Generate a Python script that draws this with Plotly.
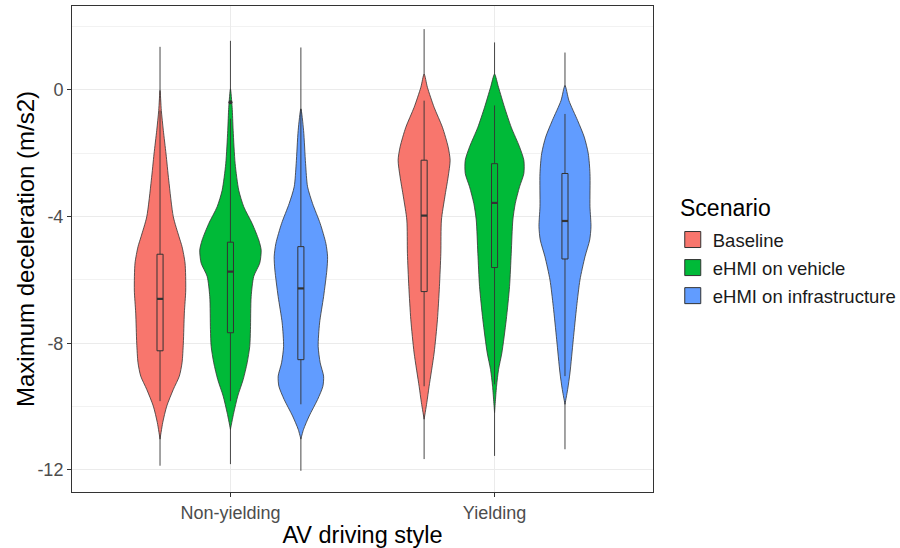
import plotly.graph_objects as go

# ---------------- data ----------------
categories = ["Non-yielding", "Yielding"]
scenarios = ["Baseline", "eHMI on vehicle", "eHMI on infrastructure"]
colors = ["#F8766D", "#00BA38", "#619CFF"]

# violin outlines: y values (top to bottom) and half-widths (density, px)
ny_base_y = [-0.02, -0.65, -1.28, -2.02, -2.85, -4.01, -4.64, -4.95, -5.47, -6.32, -7.05, -8.0, -8.62, -9.04, -9.46, -9.99, -10.51, -11.03]
ny_base_w = [0, 1.3, 3.3, 6, 8.7, 13.3, 19, 22, 25, 25.7, 24.3, 23.3, 22, 19.3, 13.3, 6.7, 2.7, 0]
ny_veh_y = [0.03, -0.55, -1.28, -2.33, -3.17, -3.69, -4.22, -4.74, -5.06, -5.47, -5.89, -6.53, -7.57, -8.10, -8.62, -9.15, -9.67, -10.20, -10.72]
ny_veh_w = [0, 1.7, 2.7, 4.7, 8.3, 13.3, 21.7, 28.3, 30.7, 29.3, 23.3, 20.7, 20, 19.3, 16.7, 12.7, 7.3, 3.3, 0]
ny_inf_y = [-0.60, -1.28, -2.33, -3.06, -3.59, -4.22, -4.85, -5.27, -5.69, -6.53, -7.36, -8.10, -8.62, -9.04, -9.36, -9.78, -10.30, -10.72, -11.03]
ny_inf_w = [0, 2.7, 4.7, 6.7, 11.7, 19.3, 25, 26.7, 26, 22.7, 18.7, 17.3, 19.3, 22.7, 22, 16.7, 8.3, 2.7, 0]
y_base_y = [0.50, 0.08, -0.55, -1.18, -1.80, -2.22, -2.75, -3.38, -4.11, -5.16, -6.21, -7.26, -8.31, -9.36, -9.88, -10.40]
y_base_w = [0, 3.3, 10, 18.3, 24, 26, 24, 20.7, 17.3, 16.7, 15.3, 13.3, 10, 5, 2.7, 0]
y_veh_y = [0.50, 0.08, -0.55, -1.18, -1.80, -2.22, -2.64, -3.06, -3.59, -4.11, -5.16, -6.21, -7.26, -8.31, -8.83, -9.36, -10.19]
y_veh_w = [0, 4, 10, 16.7, 25, 29.3, 29.3, 25, 20.7, 18.3, 16.7, 15, 11.7, 7.3, 4, 2, 0]
y_inf_y = [0.14, -0.34, -0.97, -1.49, -2.01, -2.64, -3.69, -4.32, -4.74, -5.27, -6.00, -6.84, -7.89, -8.94, -9.46, -9.93]
y_inf_w = [0, 4, 12.7, 19.3, 23.3, 25, 25, 26, 24.7, 20, 15, 11.7, 8.3, 5, 2.7, 0]

violin_y = [ny_base_y, ny_veh_y, ny_inf_y, y_base_y, y_veh_y, y_inf_y]
violin_w = [ny_base_w, ny_veh_w, ny_inf_w, y_base_w, y_veh_w, y_inf_w]

# box statistics, order: NY-Baseline, NY-vehicle, NY-infra, Y-Baseline, Y-vehicle, Y-infra
box_q3 = [-5.19, -4.81, -4.95, -2.22, -2.33, -2.64]
box_median = [-6.60, -5.74, -6.27, -3.97, -3.57, -4.14]
box_q1 = [-8.24, -7.67, -8.52, -6.37, -5.61, -5.34]
whisk_hi = [-0.65, -0.91, -0.60, -0.34, -0.49, -0.76]
whisk_lo = [-9.83, -9.83, -9.93, -9.36, -9.30, -9.04]
range_max = [1.36, 1.55, 1.34, 1.92, 1.50, 1.18]
range_min = [-11.87, -11.82, -12.03, -11.66, -11.56, -11.35]
outlier_group = [1]
outlier_val = [-0.39]

y_ticks = [-12, -8, -4, 0]

# ---------------- layout helpers ----------------
PX_PER_UNIT = 264.0
dodge = 0.8
offsets = [-dodge / 3, 0, dodge / 3]
box_w = 0.023
ink = "#333333"
FONT = "Liberation Sans, Arial, sans-serif"

def center(i):
    return (i // 3) + 1 + offsets[i % 3]

fig = go.Figure()

# full-range lines (drawn beneath violins)
lx, ly = [], []
for i in range(6):
    c = center(i)
    lx += [c, c, None]
    ly += [range_max[i], range_min[i], None]
fig.add_trace(go.Scatter(x=lx, y=ly, mode="lines", line=dict(color=ink, width=0.9),
                         showlegend=False, hoverinfo="skip"))

# violins
for i in range(6):
    c = center(i)
    ys = violin_y[i]
    ws = [w / PX_PER_UNIT for w in violin_w[i]]
    xs = [c + w for w in ws] + [c - w for w in reversed(ws)]
    yy = list(ys) + list(reversed(ys))
    fig.add_trace(go.Scatter(x=xs, y=yy, mode="lines", fill="toself",
                             fillcolor=colors[i % 3],
                             line=dict(color=ink, width=0.8, shape="spline", smoothing=0.7),
                             showlegend=False, hoverinfo="skip"))

# boxplots drawn as scatter paths (on top of violins)
for i in range(6):
    c = center(i)
    h = box_w / 2
    fig.add_trace(go.Scatter(x=[c, c, None, c, c], y=[box_q3[i], whisk_hi[i], None, box_q1[i], whisk_lo[i]],
                             mode="lines", line=dict(color=ink, width=0.9),
                             showlegend=False, hoverinfo="skip"))
    fig.add_trace(go.Scatter(x=[c - h, c + h, c + h, c - h, c - h],
                             y=[box_q1[i], box_q1[i], box_q3[i], box_q3[i], box_q1[i]],
                             mode="lines", fill="toself", fillcolor=colors[i % 3],
                             line=dict(color=ink, width=1),
                             showlegend=False, hoverinfo="skip"))
    fig.add_trace(go.Scatter(x=[c - h, c + h], y=[box_median[i], box_median[i]],
                             mode="lines", line=dict(color=ink, width=2.2),
                             showlegend=False, hoverinfo="skip"))

# outliers
fig.add_trace(go.Scatter(x=[center(g) for g in outlier_group], y=outlier_val, mode="markers",
                         marker=dict(color=ink, size=4), showlegend=False, hoverinfo="skip"))

# legend entries
for k in range(3):
    fig.add_trace(go.Scatter(x=[None], y=[None], mode="markers", name=scenarios[k],
                             legendgroup=scenarios[k],
                             marker=dict(symbol="square", size=16, color=colors[k],
                                         line=dict(color=ink, width=1))))

fig.update_layout(
    width=900, height=548,
    margin=dict(l=72, r=247, t=5, b=55),
    paper_bgcolor="white", plot_bgcolor="white",
    font=dict(family=FONT, size=18, color="#4D4D4D"),
    legend=dict(
        font=dict(size=18.5, color="#1a1a1a", family=FONT),
        xref="container", yref="container",
        x=0.7475, y=1 - 268 / 548, xanchor="left", yanchor="middle",
        itemwidth=30, itemsizing="trace", tracegroupgap=1, bgcolor="rgba(0,0,0,0)",
    ),
    annotations=[
        dict(text="Scenario", xref="paper", yref="paper",
             x=(678 - 72) / 581, y=(493 - 208) / 488, xanchor="left", yanchor="middle",
             showarrow=False, font=dict(size=23, color="black", family=FONT)),
        dict(text="Maximum deceleration (m/s2)", xref="paper", yref="paper",
             x=(25 - 72) / 581, y=0.5, xanchor="center", yanchor="middle", textangle=-90,
             showarrow=False, font=dict(size=24, color="black", family=FONT)),
    ],
)

fig.update_xaxes(
    range=[0.4, 2.6], tickvals=[1, 2], ticktext=categories,
    ticks="outside", ticklen=4, tickcolor=ink,
    tickfont=dict(size=18, color="#4D4D4D"),
    showgrid=True, gridcolor="#EBEBEB", gridwidth=1,
    showline=True, linecolor=ink, linewidth=1, mirror=True, zeroline=False,
    title=dict(text="AV driving style", font=dict(size=23.5, color="black"), standoff=4),
)
fig.update_yaxes(
    range=[-12.70, 2.65], tickvals=y_ticks, ticktext=[str(v) for v in y_ticks],
    ticks="outside", ticklen=4, tickcolor=ink,
    tickfont=dict(size=18, color="#4D4D4D"),
    showgrid=True, gridcolor="#EBEBEB", gridwidth=1,
    minor=dict(tickvals=[-10, -6, -2, 2], showgrid=True, gridcolor="#F2F2F2", gridwidth=0.8, ticks=""),
    showline=True, linecolor=ink, linewidth=1, mirror=True, zeroline=False,
)

fig.write_html("out.html")
